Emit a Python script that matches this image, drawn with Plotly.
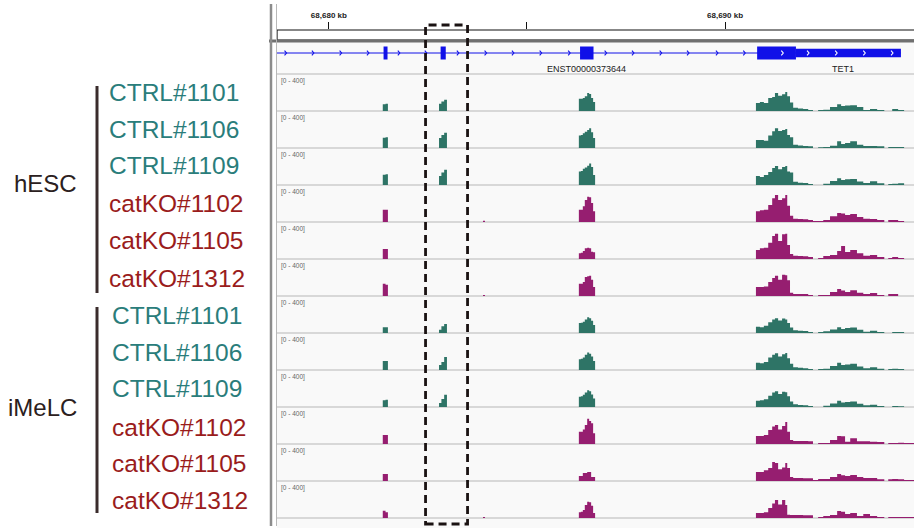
import plotly.graph_objects as go

# ---------------- data ----------------
GROUPS = ["hESC", "iMeLC"]
SAMPLES = ["CTRL#1101", "CTRL#1106", "CTRL#1109",
           "catKO#1102", "catKO#1105", "catKO#1312"]
CONDITIONS = ["CTRL", "CTRL", "CTRL", "catKO", "catKO", "catKO"]
TRACK_SCALE = (0, 400)

VIEW_KB = (68678.69, 68694.77)           # visible locus, kb
RULER_TICKS_KB = [68680, 68685, 68690]
RULER_LABELS = ["68,680 kb", "", "68,690 kb"]
HIGHLIGHT_KB = (68682.44, 68683.50)

# gene model (kb)
GENE_SPAN_KB = (68678.50, 68694.44)
EXON_START_KB = [68681.38, 68682.82, 68686.34, 68690.81, 68691.79]
EXON_END_KB = [68681.48, 68682.95, 68686.68, 68691.79, 68694.44]
EXON_THICK = [True, True, True, True, False]
STRAND_MARKS_KB = [68678.93, 68679.62, 68680.32, 68681.01, 68681.79, 68682.47,
                   68683.28, 68683.98, 68684.67, 68685.37, 68686.09, 68687.01,
                   68687.70, 68688.40, 68689.09, 68689.82, 68690.51, 68691.47,
                   68692.12, 68692.83, 68693.54, 68694.24]
GENE_LABELS = ["ENST00000373644", "TET1"]
GENE_LABEL_KB = [68686.50, 68692.98]

# coverage bins (kb edges) per region
EXON1_EDGES = [68681.36, 68681.43, 68681.49]
EXON2_EDGES = [68682.78, 68682.84, 68682.91, 68682.98]
SPOT_EDGES = [68683.89, 68683.94]
EXON3_EDGES = [68686.31, 68686.36, 68686.41, 68686.46, 68686.52,
               68686.57, 68686.62, 68686.67, 68686.72]
TET1_EDGES = [68690.78, 68690.88, 68690.98, 68691.09, 68691.19, 68691.26,
              68691.34, 68691.44, 68691.52, 68691.57, 68691.64, 68691.72,
              68691.84, 68691.97, 68692.10, 68692.22, 68692.35, 68692.48,
              68692.65, 68692.83, 68692.93, 68693.03, 68693.16, 68693.33,
              68693.49, 68693.66, 68693.84, 68694.02, 68694.12, 68694.22,
              68694.37, 68694.52, 68694.67, 68694.77]

# track order: hESC CTRL x3, hESC catKO x3, iMeLC CTRL x3, iMeLC catKO x3
COV_EXON1 = [
    [75, 80], [115, 120], [115, 120], [135, 135], [110, 110], [135, 125],
    [65, 65], [100, 100], [75, 80], [100, 100], [78, 78], [80, 65],
]
COV_EXON2 = [
    [80, 105, 125], [110, 145, 170], [100, 140, 170], [0, 0, 0], [0, 0, 0], [0, 0, 0],
    [35, 75, 100], [55, 90, 145], [45, 90, 135], [0, 0, 0], [0, 0, 0], [0, 0, 0],
]
COV_SPOT = [
    [0], [0], [0], [15], [0], [12],
    [0], [0], [0], [0], [0], [12],
]
COV_EXON3 = [
    [135, 135, 145, 165, 200, 190, 145, 100],
    [140, 145, 165, 180, 200, 220, 175, 110],
    [150, 155, 180, 195, 215, 240, 200, 110],
    [135, 135, 175, 245, 280, 275, 210, 120],
    [65, 70, 90, 120, 125, 120, 80, 75],
    [135, 135, 155, 210, 220, 225, 180, 100],
    [110, 115, 125, 150, 175, 165, 135, 90],
    [120, 125, 140, 170, 195, 180, 150, 100],
    [115, 120, 135, 160, 185, 175, 140, 95],
    [135, 135, 160, 210, 280, 255, 230, 120],
    [55, 55, 90, 90, 100, 100, 45, 45],
    [65, 70, 90, 145, 180, 175, 135, 55],
]
COV_TET1 = [
    [90, 100, 90, 145, 155, 200, 170, 185, 210, 165, 95, 35, 28, 22, 12, 0, 10,
     15, 45, 75, 55, 60, 65, 45, 12, 22, 12, 0, 0, 22, 10, 0, 0],
    [90, 90, 80, 140, 185, 220, 190, 200, 210, 145, 120, 35, 28, 22, 20, 0, 8,
     12, 25, 75, 45, 55, 75, 35, 22, 22, 20, 0, 10, 12, 10, 0, 0],
    [100, 90, 110, 145, 190, 210, 175, 200, 210, 150, 140, 35, 25, 22, 12, 0, 0,
     15, 45, 75, 55, 65, 68, 40, 22, 42, 20, 0, 10, 15, 20, 0, 0],
    [120, 130, 135, 190, 265, 300, 245, 265, 300, 180, 70, 35, 33, 30, 22, 10, 10,
     22, 65, 100, 95, 78, 90, 55, 35, 33, 22, 0, 22, 22, 12, 0, 0],
    [100, 120, 125, 180, 255, 280, 200, 275, 280, 155, 55, 35, 33, 30, 22, 0, 12,
     33, 45, 90, 145, 78, 100, 65, 35, 45, 22, 0, 12, 22, 12, 0, 0],
    [100, 100, 105, 155, 200, 225, 180, 235, 230, 175, 35, 22, 22, 22, 12, 0, 12,
     12, 45, 78, 60, 45, 65, 35, 22, 33, 12, 0, 22, 22, 0, 0, 0],
    [70, 65, 80, 120, 150, 165, 140, 160, 150, 110, 60, 30, 25, 22, 12, 0, 10,
     20, 40, 65, 45, 55, 60, 35, 15, 25, 12, 0, 0, 12, 10, 0, 0],
    [80, 75, 90, 140, 170, 185, 150, 175, 190, 130, 70, 30, 25, 20, 12, 0, 10,
     15, 45, 80, 55, 60, 70, 40, 20, 30, 15, 0, 10, 15, 10, 0, 0],
    [70, 75, 85, 125, 160, 175, 145, 170, 165, 120, 60, 30, 22, 20, 10, 0, 0,
     15, 40, 70, 50, 55, 60, 35, 20, 25, 12, 0, 0, 12, 8, 0, 0],
    [90, 90, 100, 155, 195, 210, 160, 200, 245, 135, 45, 33, 33, 33, 30, 0, 10,
     12, 45, 90, 85, 25, 65, 30, 30, 25, 22, 0, 10, 12, 15, 10, 10],
    [100, 100, 120, 145, 210, 200, 130, 150, 200, 145, 45, 33, 33, 30, 30, 10, 22,
     22, 45, 78, 65, 55, 67, 45, 33, 33, 20, 0, 20, 22, 20, 12, 12],
    [55, 55, 65, 110, 160, 200, 150, 200, 145, 35, 33, 33, 33, 30, 30, 0, 10,
     22, 33, 78, 70, 45, 55, 22, 45, 22, 10, 0, 10, 12, 12, 10, 10],
]

# ---------------- styling / layout geometry ----------------
W, H = 914, 528
PANEL_LEFT = 277
TRACK_TOP0, TRACK_PITCH = 74, 37
FILL = {"CTRL": "#2e7466", "catKO": "#961e70"}
TEXT_COL = {"CTRL": "#2a7d7b", "catKO": "#9a1c1c"}
GENE_BLUE = "#1010e8"
FONT = "Arial, Liberation Sans, Helvetica, sans-serif"


def px(xp):
    return xp / W


def py(yp):
    return 1 - yp / H


def step_series(i):
    regions = [(EXON1_EDGES, COV_EXON1), (EXON2_EDGES, COV_EXON2),
               (SPOT_EDGES, COV_SPOT), (EXON3_EDGES, COV_EXON3),
               (TET1_EDGES, COV_TET1)]
    xs, ys = [VIEW_KB[0]], [0]
    for edges, table in regions:
        vals = table[i]
        for e, v in zip(edges[:-1], vals):
            xs.append(e)
            ys.append(v)
        xs.append(edges[-1])
        ys.append(0)
    xs.append(VIEW_KB[1])
    ys.append(0)
    return xs, ys


fig = go.Figure()
layout = dict(
    width=W, height=H, autosize=False,
    margin=dict(l=0, r=0, t=0, b=0, pad=0),
    paper_bgcolor="white", plot_bgcolor="rgba(0,0,0,0)",
    showlegend=False,
    font=dict(family=FONT),
    xaxis=dict(
        domain=[px(PANEL_LEFT), 1], range=list(VIEW_KB),
        side="top", anchor="free", position=py(28.5),
        tickvals=RULER_TICKS_KB,
        ticktext=[f"<b>{t}</b>" if t else "" for t in RULER_LABELS],
        ticks="outside", ticklen=7, tickwidth=1, tickcolor="#111",
        tickfont=dict(size=8, color="#222", family=FONT),
        showgrid=False, zeroline=False, showline=False, fixedrange=True,
    ),
)

shapes = []
annotations = []

# panel background
shapes.append(dict(type="rect", xref="paper", yref="paper", layer="below",
                   x0=px(PANEL_LEFT), x1=1, y0=py(528), y1=py(42),
                   fillcolor="#f9f9f9", line=dict(width=0)))

n_tracks = len(GROUPS) * len(SAMPLES)

# track separators
for k in range(n_tracks + 1):
    yk = TRACK_TOP0 + TRACK_PITCH * k
    shapes.append(dict(type="line", xref="paper", yref="paper", layer="below",
                       x0=px(PANEL_LEFT), x1=1, y0=py(yk), y1=py(yk),
                       line=dict(color="#d8d8d8", width=2)))

for i in range(n_tracks):
    cond = CONDITIONS[i % len(SAMPLES)]
    top = TRACK_TOP0 + TRACK_PITCH * i + 1
    base = TRACK_TOP0 + TRACK_PITCH * (i + 1)
    ax = f"yaxis{i + 1}"
    layout[ax] = dict(domain=[py(base), py(top)], range=list(TRACK_SCALE),
                      visible=False, fixedrange=True, anchor="x")
    xs, ys = step_series(i)
    fig.add_trace(go.Scatter(
        x=xs, y=ys, mode="lines", line_shape="hv",
        line=dict(color=FILL[cond], width=0),
        fill="tozeroy", fillcolor=FILL[cond],
        xaxis="x", yaxis=f"y{i + 1}", hoverinfo="skip"))
    annotations.append(dict(
        text=f"[{TRACK_SCALE[0]} - {TRACK_SCALE[1]}]", xref="paper", yref="paper",
        x=px(278.5), y=py(top + 5.5), xanchor="left", yanchor="middle",
        showarrow=False, font=dict(size=6.5, color="#666", family=FONT)))

# gene track axis: 1 unit = 1 px, intron at 0
gid = n_tracks + 1
layout[f"yaxis{gid}"] = dict(domain=[py(73), py(41)], range=[-20, 12],
                             visible=False, fixedrange=True, anchor="x")
shapes.append(dict(type="line", xref="x", yref=f"y{gid}", layer="below",
                   x0=max(GENE_SPAN_KB[0], VIEW_KB[0]), x1=GENE_SPAN_KB[1], y0=0, y1=0,
                   line=dict(color=GENE_BLUE, width=1)))
for s, e, thick in zip(EXON_START_KB, EXON_END_KB, EXON_THICK):
    h = 6.5 if thick else 4.3
    shapes.append(dict(type="rect", xref="x", yref=f"y{gid}", layer="below",
                       x0=s, x1=e, y0=-h, y1=h,
                       fillcolor=GENE_BLUE, line=dict(width=0)))

cx_b, cy_b, cx_w, cy_w = [], [], [], []
for m in STRAND_MARKS_KB:
    inside = any(s <= m <= e for s, e in zip(EXON_START_KB, EXON_END_KB))
    tx, ty = (cx_w, cy_w) if inside else (cx_b, cy_b)
    tx += [m - 0.05, m, m - 0.05, None]
    ty += [2.3, 0, -2.3, None]
fig.add_trace(go.Scatter(x=cx_b, y=cy_b, mode="lines", xaxis="x", yaxis=f"y{gid}",
                         line=dict(color=GENE_BLUE, width=1.1), hoverinfo="skip"))
fig.add_trace(go.Scatter(x=cx_w, y=cy_w, mode="lines", xaxis="x", yaxis=f"y{gid}",
                         line=dict(color="white", width=1.1), hoverinfo="skip"))
for lab, xk in zip(GENE_LABELS, GENE_LABEL_KB):
    annotations.append(dict(text=lab, xref="x", yref="paper", x=xk, y=py(68.5),
                            xanchor="center", yanchor="middle", showarrow=False,
                            font=dict(size=9, color="#222", family=FONT)))

# ruler box and panel frame
shapes.append(dict(type="rect", xref="paper", yref="paper",
                   x0=px(PANEL_LEFT), x1=1.01, y0=py(40), y1=py(30),
                   line=dict(color="#111", width=1.2)))
shapes.append(dict(type="line", xref="paper", yref="paper",
                   x0=px(269), x1=1, y0=py(41), y1=py(41),
                   line=dict(color="#707070", width=3)))
shapes.append(dict(type="line", xref="paper", yref="paper",
                   x0=px(271), x1=px(271), y0=py(4), y1=py(526),
                   line=dict(color="#8c8c8c", width=2.5)))
shapes.append(dict(type="line", xref="paper", yref="paper",
                   x0=px(276.5), x1=px(276.5), y0=py(4), y1=py(526),
                   line=dict(color="#b8b8b8", width=1)))

# highlighted window
shapes.append(dict(type="rect", xref="x", yref="paper", layer="above",
                   x0=HIGHLIGHT_KB[0], x1=HIGHLIGHT_KB[1], y0=py(524), y1=py(25),
                   line=dict(color="#1a1212", width=2.8, dash="8px,5px")))

# sample labels and group brackets
LABEL_Y = [[92, 129, 165, 203, 240, 278], [315, 352, 388, 427, 463, 500]]
LABEL_X = [107, 110]
GROUP_Y = [183, 407]
GROUP_X = [45, 42]
BRACKET_Y = [(86, 293), (307, 513)]
for g, grp in enumerate(GROUPS):
    for j, name in enumerate(SAMPLES):
        annotations.append(dict(
            text=name, xref="paper", yref="paper", x=px(LABEL_X[g]),
            y=py(LABEL_Y[g][j]), xanchor="left", yanchor="middle", showarrow=False,
            font=dict(size=24.5, color=TEXT_COL[CONDITIONS[j]], family=FONT)))
    annotations.append(dict(
        text=grp, xref="paper", yref="paper", x=px(GROUP_X[g]), y=py(GROUP_Y[g]),
        xanchor="center", yanchor="middle", showarrow=False,
        font=dict(size=24, color="#2b2020", family=FONT)))
    shapes.append(dict(type="line", xref="paper", yref="paper",
                       x0=px(97), x1=px(97), y0=py(BRACKET_Y[g][0]), y1=py(BRACKET_Y[g][1]),
                       line=dict(color="#3a2c2c", width=3)))

layout["shapes"] = shapes
layout["annotations"] = annotations
fig.update_layout(**layout)
fig.write_html("out.html", config={"displayModeBar": False})
